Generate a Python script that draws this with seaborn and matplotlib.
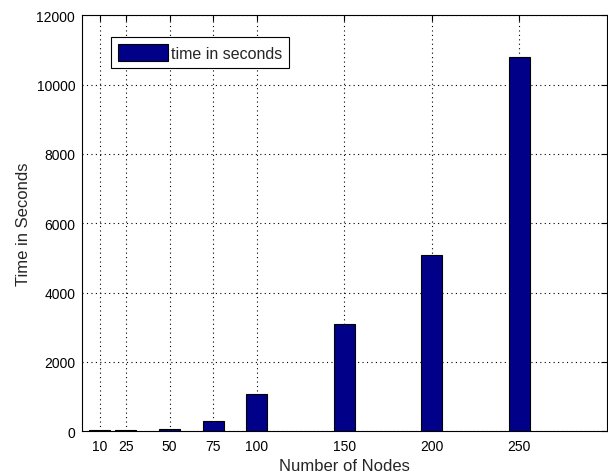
import numpy as np
import pandas as pd
import seaborn as sns
import matplotlib.pyplot as plt

# data
nodes = [10, 25, 50, 75, 100, 150, 200, 250]
seconds = [25, 25, 66, 280, 1085, 3090, 5095, 10805]
series_name = 'time in seconds'

df = pd.DataFrame({'nodes': nodes, 'seconds': seconds})

sns.set_style('white')
plt.rcParams['font.family'] = ['Liberation Sans', 'DejaVu Sans']

fig = plt.figure(figsize=(6.08, 4.77), dpi=100)
ax = fig.add_axes([0.135, 0.094, 0.863, 0.872])

sns.barplot(data=df, x='nodes', y='seconds', native_scale=True, color='#000088',
            saturation=1, edgecolor='black', linewidth=0.8, width=0.8,
            label=series_name, ax=ax)

ax.set_xlim(0, 300)
ax.set_ylim(0, 12000)
ax.set_xticks(nodes)
ax.set_xticklabels([str(n) for n in nodes])
ax.set_yticks(np.arange(0, 12001, 2000))
ax.grid(True, linestyle=(0, (1, 3)), color='black', linewidth=0.8)
ax.set_axisbelow(True)
ax.tick_params(direction='in', top=True, right=True, labelsize=10, length=4, colors='black')
ax.tick_params(axis='x', pad=6)
ax.tick_params(axis='y', pad=5)
for s in ax.spines.values():
    s.set_color('black')
    s.set_linewidth(0.8)

ax.set_xlabel('Number of Nodes', fontsize=12, labelpad=3)
ax.set_ylabel('Time in Seconds', fontsize=12)

leg = ax.legend(loc='upper left', bbox_to_anchor=(0.055, 0.947), fontsize=11.5,
                fancybox=False, framealpha=1, edgecolor='black', borderaxespad=0,
                handlelength=3.1, handleheight=1.2, borderpad=0.45, handletextpad=0.2)
leg.get_frame().set_linewidth(0.8)

plt.savefig('out.png', dpi=100)
